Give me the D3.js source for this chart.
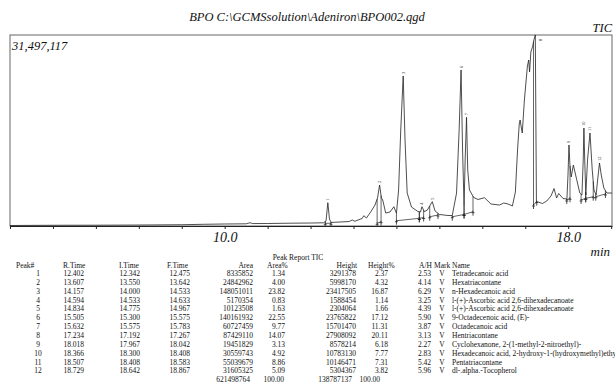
<!DOCTYPE html>
<html>
<head>
<meta charset="utf-8">
<script src="https://cdn.jsdelivr.net/npm/d3@7"></script>
<style>
  body { margin: 0; background: #fff; }
  svg { display: block; }
  text { font-family: "Liberation Serif", "Times New Roman", serif; fill: #111; }
</style>
</head>
<body>
<div id="chart"></div>
<script>
// TIC trace (time in min, intensity in millions)
const times = [5.0, 6.0, 7.0, 8.0, 9.0, 9.5, 10.0, 10.5, 10.59, 10.65,
  11.0, 11.5, 12.0, 12.3, 12.36, 12.402, 12.44, 12.48, 12.55, 12.9,
  12.97, 13.03, 13.2, 13.24, 13.3, 13.4, 13.5, 13.56, 13.607, 13.65,
  13.68, 13.75, 13.85, 13.94, 14.0, 14.05, 14.1, 14.157, 14.2, 14.25,
  14.35, 14.5, 14.56, 14.594, 14.65, 14.72, 14.834, 14.9, 15.0, 15.2,
  15.3, 15.4, 15.46, 15.505, 15.54, 15.575, 15.6, 15.632, 15.66, 15.7,
  15.8, 15.9, 16.05, 16.2, 16.4, 16.5, 16.6, 16.7, 16.77, 16.82,
  16.86, 16.88, 16.91, 16.93, 16.98, 17.05, 17.08, 17.1, 17.13, 17.17,
  17.2, 17.234, 17.26, 17.3, 17.4, 17.5, 17.6, 17.67, 17.73, 17.78,
  17.88, 17.97, 17.995, 18.018, 18.04, 18.07, 18.12, 18.2, 18.27, 18.32,
  18.35, 18.366, 18.385, 18.41, 18.45, 18.507, 18.56, 18.6, 18.65, 18.69,
  18.729, 18.77, 18.83, 18.9, 19.0, 19.02];
const intensity = [0.08, 0.12, 0.13, 0.16, 0.21, 0.28, 0.33, 0.36, 0.54, 0.40,
  0.41, 0.46, 0.49, 0.53, 0.82, 3.84, 1.15, 0.58, 0.61, 0.74,
  0.99, 0.78, 1.24, 1.70, 1.32, 2.31, 3.46, 4.62, 6.76, 4.62,
  4.29, 2.14, 2.31, 3.18, 2.09, 5.94, 15.83, 24.74, 14.18, 5.44,
  3.13, 2.39, 2.31, 3.18, 2.36, 2.64, 4.01, 2.47, 1.90, 1.73,
  1.73, 5.44, 15.83, 25.73, 12.53, 3.30, 10.88, 17.93, 9.23, 5.94,
  4.70, 4.37, 4.67, 3.63, 3.46, 3.79, 3.63, 3.30, 5.61, 12.53,
  16.82, 17.48, 16.16, 15.34, 20.78, 26.38, 27.37, 25.40, 28.69, 29.57,
  30.67, 31.50, 3.96, 3.96, 3.71, 4.12, 4.95, 6.18, 4.62, 5.36,
  4.53, 4.45, 8.41, 13.36, 10.06, 8.08, 10.06, 7.59, 5.44, 5.11,
  10.88, 16.16, 10.88, 5.11, 10.88, 15.34, 9.23, 5.94, 5.11, 7.92,
  10.39, 8.41, 6.27, 5.44, 5.44, 5.36];

// peak report table
const peakNo = [1, 2, 3, 4, 5, 6, 7, 8, 9, 10, 11, 12];
const rTime = ["12.402", "13.607", "14.157", "14.594", "14.834", "15.505", "15.632", "17.234", "18.018", "18.366", "18.507", "18.729"];
const iTime = ["12.342", "13.550", "14.000", "14.533", "14.775", "15.300", "15.575", "17.192", "17.967", "18.300", "18.408", "18.642"];
const fTime = ["12.475", "13.642", "14.533", "14.633", "14.967", "15.575", "15.783", "17.267", "18.042", "18.408", "18.583", "18.867"];
const area = ["8335852", "24842962", "148051011", "5170354", "10123508", "140161932", "60727459", "87429110", "19451829", "30559743", "55039679", "31605325"];
const areaPct = ["1.34", "4.00", "23.82", "0.83", "1.63", "22.55", "9.77", "14.07", "3.13", "4.92", "8.86", "5.09"];
const height = ["3291378", "5998170", "23417505", "1588454", "2304064", "23765822", "15701470", "27908092", "8578214", "10783130", "10146471", "5304367"];
const heightPct = ["2.37", "4.32", "16.87", "1.14", "1.66", "17.12", "11.31", "20.11", "6.18", "7.77", "7.31", "3.82"];
const aH = ["2.53", "4.14", "6.29", "3.25", "4.39", "5.90", "3.87", "3.13", "2.27", "2.83", "5.42", "5.96"];
const mark = ["V", "V", "V", "V", "V", "V", "V", "V", "V", "V", "V", "V"];
const names = ["Tetradecanoic acid", "Hexatriacontane", "n-Hexadecanoic acid",
  "l-(+)-Ascorbic acid 2,6-dihexadecanoate", "l-(+)-Ascorbic acid 2,6-dihexadecanoate",
  "9-Octadecenoic acid, (E)-", "Octadecanoic acid", "Hentriacontane",
  "Cyclohexanone, 2-(1-methyl-2-nitroethyl)-", "Hexadecanoic acid, 2-hydroxy-1-(hydroxymethyl)ethyl ester",
  "Pentatriacontane", "dl-.alpha.-Tocopherol"];
const totals = ["621498764", "100.00", "138787137", "100.00"];

// integration baseline levels at start / end of each peak (millions)
const baseStart = [0.45, 0.45, 0.87, 1.27, 1.53, 1.53, 1.90, 3.46, 4.29, 4.29, 4.57, 4.83];
const baseEnd = [0.45, 0.71, 1.27, 1.40, 1.81, 1.90, 2.36, 4.01, 4.57, 4.57, 4.83, 5.28];

const maxCount = 31497117;
const W = 615, H = 386;
const plot = { left: 10, right: 612, top: 35, bottom: 226 };

const svg = d3.select("#chart").append("svg")
  .attr("width", W).attr("height", H);

const x = d3.scaleLinear().domain([5.0, 19.02]).range([plot.left, plot.right]);
const y = d3.scaleLinear().domain([0, maxCount / 1e6]).range([plot.bottom, plot.top]);

svg.append("text")
  .attr("x", 307).attr("y", 21)
  .attr("text-anchor", "middle")
  .style("font-style", "italic").style("font-size", "12.5px")
  .text("BPO C:\\GCMSsolution\\Adeniron\\BPO002.qgd");

svg.append("text")
  .attr("x", 612).attr("y", 32)
  .attr("text-anchor", "end")
  .style("font-style", "italic").style("font-size", "12.5px")
  .text("TIC");

// frame
svg.append("rect")
  .attr("x", plot.left).attr("y", plot.top)
  .attr("width", plot.right - plot.left).attr("height", plot.bottom - plot.top)
  .attr("fill", "none").attr("stroke", "#666").attr("stroke-width", 1);

svg.append("text")
  .attr("x", 12).attr("y", 50)
  .style("font-style", "italic").style("font-size", "12.5px")
  .text(d3.format(",")(maxCount));

svg.append("defs").append("clipPath").attr("id", "clip")
  .append("rect")
  .attr("x", plot.left).attr("y", plot.top - 1)
  .attr("width", plot.right - plot.left).attr("height", plot.bottom - plot.top + 1);

const gPlot = svg.append("g").attr("clip-path", "url(#clip)");

const trace = times.map((t, i) => [t, intensity[i]]);
const signalAt = (t) => {
  const i = d3.bisector((d) => d[0]).left(trace, t);
  if (i <= 0) return trace[0][1];
  if (i >= trace.length) return trace[trace.length - 1][1];
  const a = trace[i - 1], b = trace[i];
  return a[1] + (b[1] - a[1]) * (t - a[0]) / (b[0] - a[0]);
};

// integration baselines, drop lines and markers
peakNo.forEach((p, i) => {
  const t0 = +iTime[i], t1 = +fTime[i];
  gPlot.append("line")
    .attr("x1", x(t0)).attr("y1", y(baseStart[i]))
    .attr("x2", x(t1)).attr("y2", y(baseEnd[i]))
    .attr("stroke", "#222").attr("stroke-width", 0.7);
  [[t0, baseStart[i]], [t1, baseEnd[i]]].forEach(([t, b]) => {
    gPlot.append("line")
      .attr("x1", x(t)).attr("x2", x(t))
      .attr("y1", y(signalAt(t))).attr("y2", y(b))
      .attr("stroke", "#222").attr("stroke-width", 0.7);
    gPlot.append("line")
      .attr("x1", x(t)).attr("x2", x(t))
      .attr("y1", y(b) - 1).attr("y2", y(b) + 4)
      .attr("stroke", "#222").attr("stroke-width", 0.8);
    gPlot.append("line")
      .attr("x1", x(t) - 1.5).attr("x2", x(t) + 1.5)
      .attr("y1", y(b) + 1).attr("y2", y(b) + 1)
      .attr("stroke", "#222").attr("stroke-width", 0.8);
  });
});

gPlot.append("path")
  .datum(trace)
  .attr("fill", "none")
  .attr("stroke", "#222")
  .attr("stroke-width", 0.8)
  .attr("d", d3.line().x((d) => x(d[0])).y((d) => y(d[1])));

// peak labels
peakNo.forEach((p, i) => {
  const t = +rTime[i];
  const top = y(signalAt(t));
  const lx = top < plot.top + 6 ? x(t) + 7 : x(t) + 1.5;
  const ly = top < plot.top + 6 ? plot.top + 6 : top - 2;
  svg.append("text")
    .attr("transform", `translate(${lx},${ly}) rotate(-90)`)
    .style("font-size", "4.5px")
    .text(p);
});

// time axis
const xAxis = d3.axisBottom(x)
  .tickValues(d3.range(5, 20))
  .tickSize(3)
  .tickSizeOuter(0)
  .tickPadding(3)
  .tickFormat((d) => (d === 10 || d === 18 ? d3.format(".1f")(d) : ""));

const gx = svg.append("g")
  .attr("transform", `translate(0,${plot.bottom})`)
  .call(xAxis);
gx.select(".domain").attr("stroke", "#222");
gx.selectAll(".tick line").attr("stroke", "#222");
gx.selectAll(".tick text")
  .style("font-family", '"Liberation Serif", serif')
  .style("font-style", "italic").style("font-size", "14px").attr("fill", "#111");

svg.append("text")
  .attr("x", 610).attr("y", 256)
  .attr("text-anchor", "end")
  .style("font-style", "italic").style("font-size", "13px")
  .text("min");

// peak report
const tbl = svg.append("g").style("font-size", "7.5px");
tbl.append("text").attr("x", 298).attr("y", 260).attr("text-anchor", "middle").text("Peak Report TIC");

const cols = [
  { head: "Peak#", hx: 16, ha: "start", vx: 38, va: "middle", vals: peakNo },
  { head: "R.Time", hx: 63, ha: "start", vx: 84, va: "end", vals: rTime },
  { head: "I.Time", hx: 119, ha: "start", vx: 140, va: "end", vals: iTime },
  { head: "F.Time", hx: 167, ha: "start", vx: 190, va: "end", vals: fTime },
  { head: "Area", hx: 253, ha: "end", vx: 253, va: "end", vals: area },
  { head: "Area%", hx: 267, ha: "start", vx: 285, va: "end", vals: areaPct },
  { head: "Height", hx: 357, ha: "end", vx: 356, va: "end", vals: height },
  { head: "Height%", hx: 368, ha: "start", vx: 388, va: "end", vals: heightPct },
  { head: "A/H", hx: 419, ha: "start", vx: 431, va: "end", vals: aH },
  { head: "Mark", hx: 434, ha: "start", vx: 442, va: "middle", vals: mark },
  { head: "Name", hx: 452, ha: "start", vx: 452, va: "start", vals: names }
];

const rowY = (r) => 276 + r * 8.85;

cols.forEach((c) => {
  tbl.append("text").attr("x", c.hx).attr("y", 267.5).attr("text-anchor", c.ha).text(c.head);
  tbl.selectAll(null)
    .data(c.vals)
    .join("text")
    .attr("x", c.vx)
    .attr("y", (d, i) => rowY(i))
    .attr("text-anchor", c.va)
    .text((d) => d);
});

const totalX = [250, 284, 352, 380];
tbl.selectAll(null)
  .data(totals)
  .join("text")
  .attr("x", (d, i) => totalX[i])
  .attr("y", rowY(12))
  .attr("text-anchor", "end")
  .text((d) => d);
</script>
</body>
</html>
